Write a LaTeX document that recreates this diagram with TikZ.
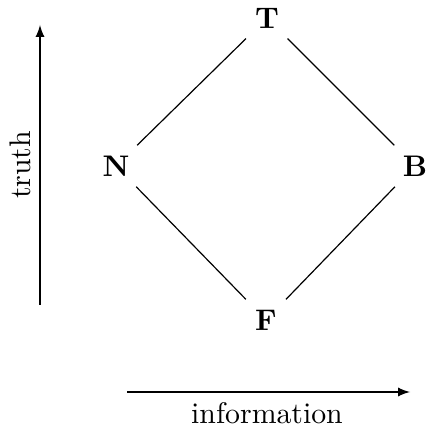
\documentclass[tikz,border=0pt]{standalone}
\usepackage{tikz}
\usetikzlibrary{arrows,calc,positioning}

\begin{document}
\begin{tikzpicture}[x=0.0118cm,y=0.0118cm,
valnode/.style={font=\bfseries},
]
\useasboundingbox (0,0) rectangle (427,430);
%Nodes
\node[valnode]    (top)      at (267,412) {T};
\node[valnode]    (neither)  at (116,264) {N};
\node[valnode]    (both)     at (415,264) {B};
\node[valnode]    (bottom)   at (266,110) {F};

\coordinate (truthlow)  at (40,125);
\coordinate (truthhigh) at (40,405);
\coordinate (infolow)   at (127,38);
\coordinate (infohigh)  at (410,38);
\node[rotate=90]  (truth)    at (20,265) {truth};
\node             (info)     at (267,17) {information};

%Lines
\draw[-] (top) -- (neither);
\draw[-] (top) -- (both);
\draw[-] (neither) -- (bottom);
\draw[-] (both) -- (bottom);

%Axes
\draw[-latex] (truthlow) -- (truthhigh);
\draw[-latex] (infolow) -- (infohigh);
\end{tikzpicture}
\end{document}
